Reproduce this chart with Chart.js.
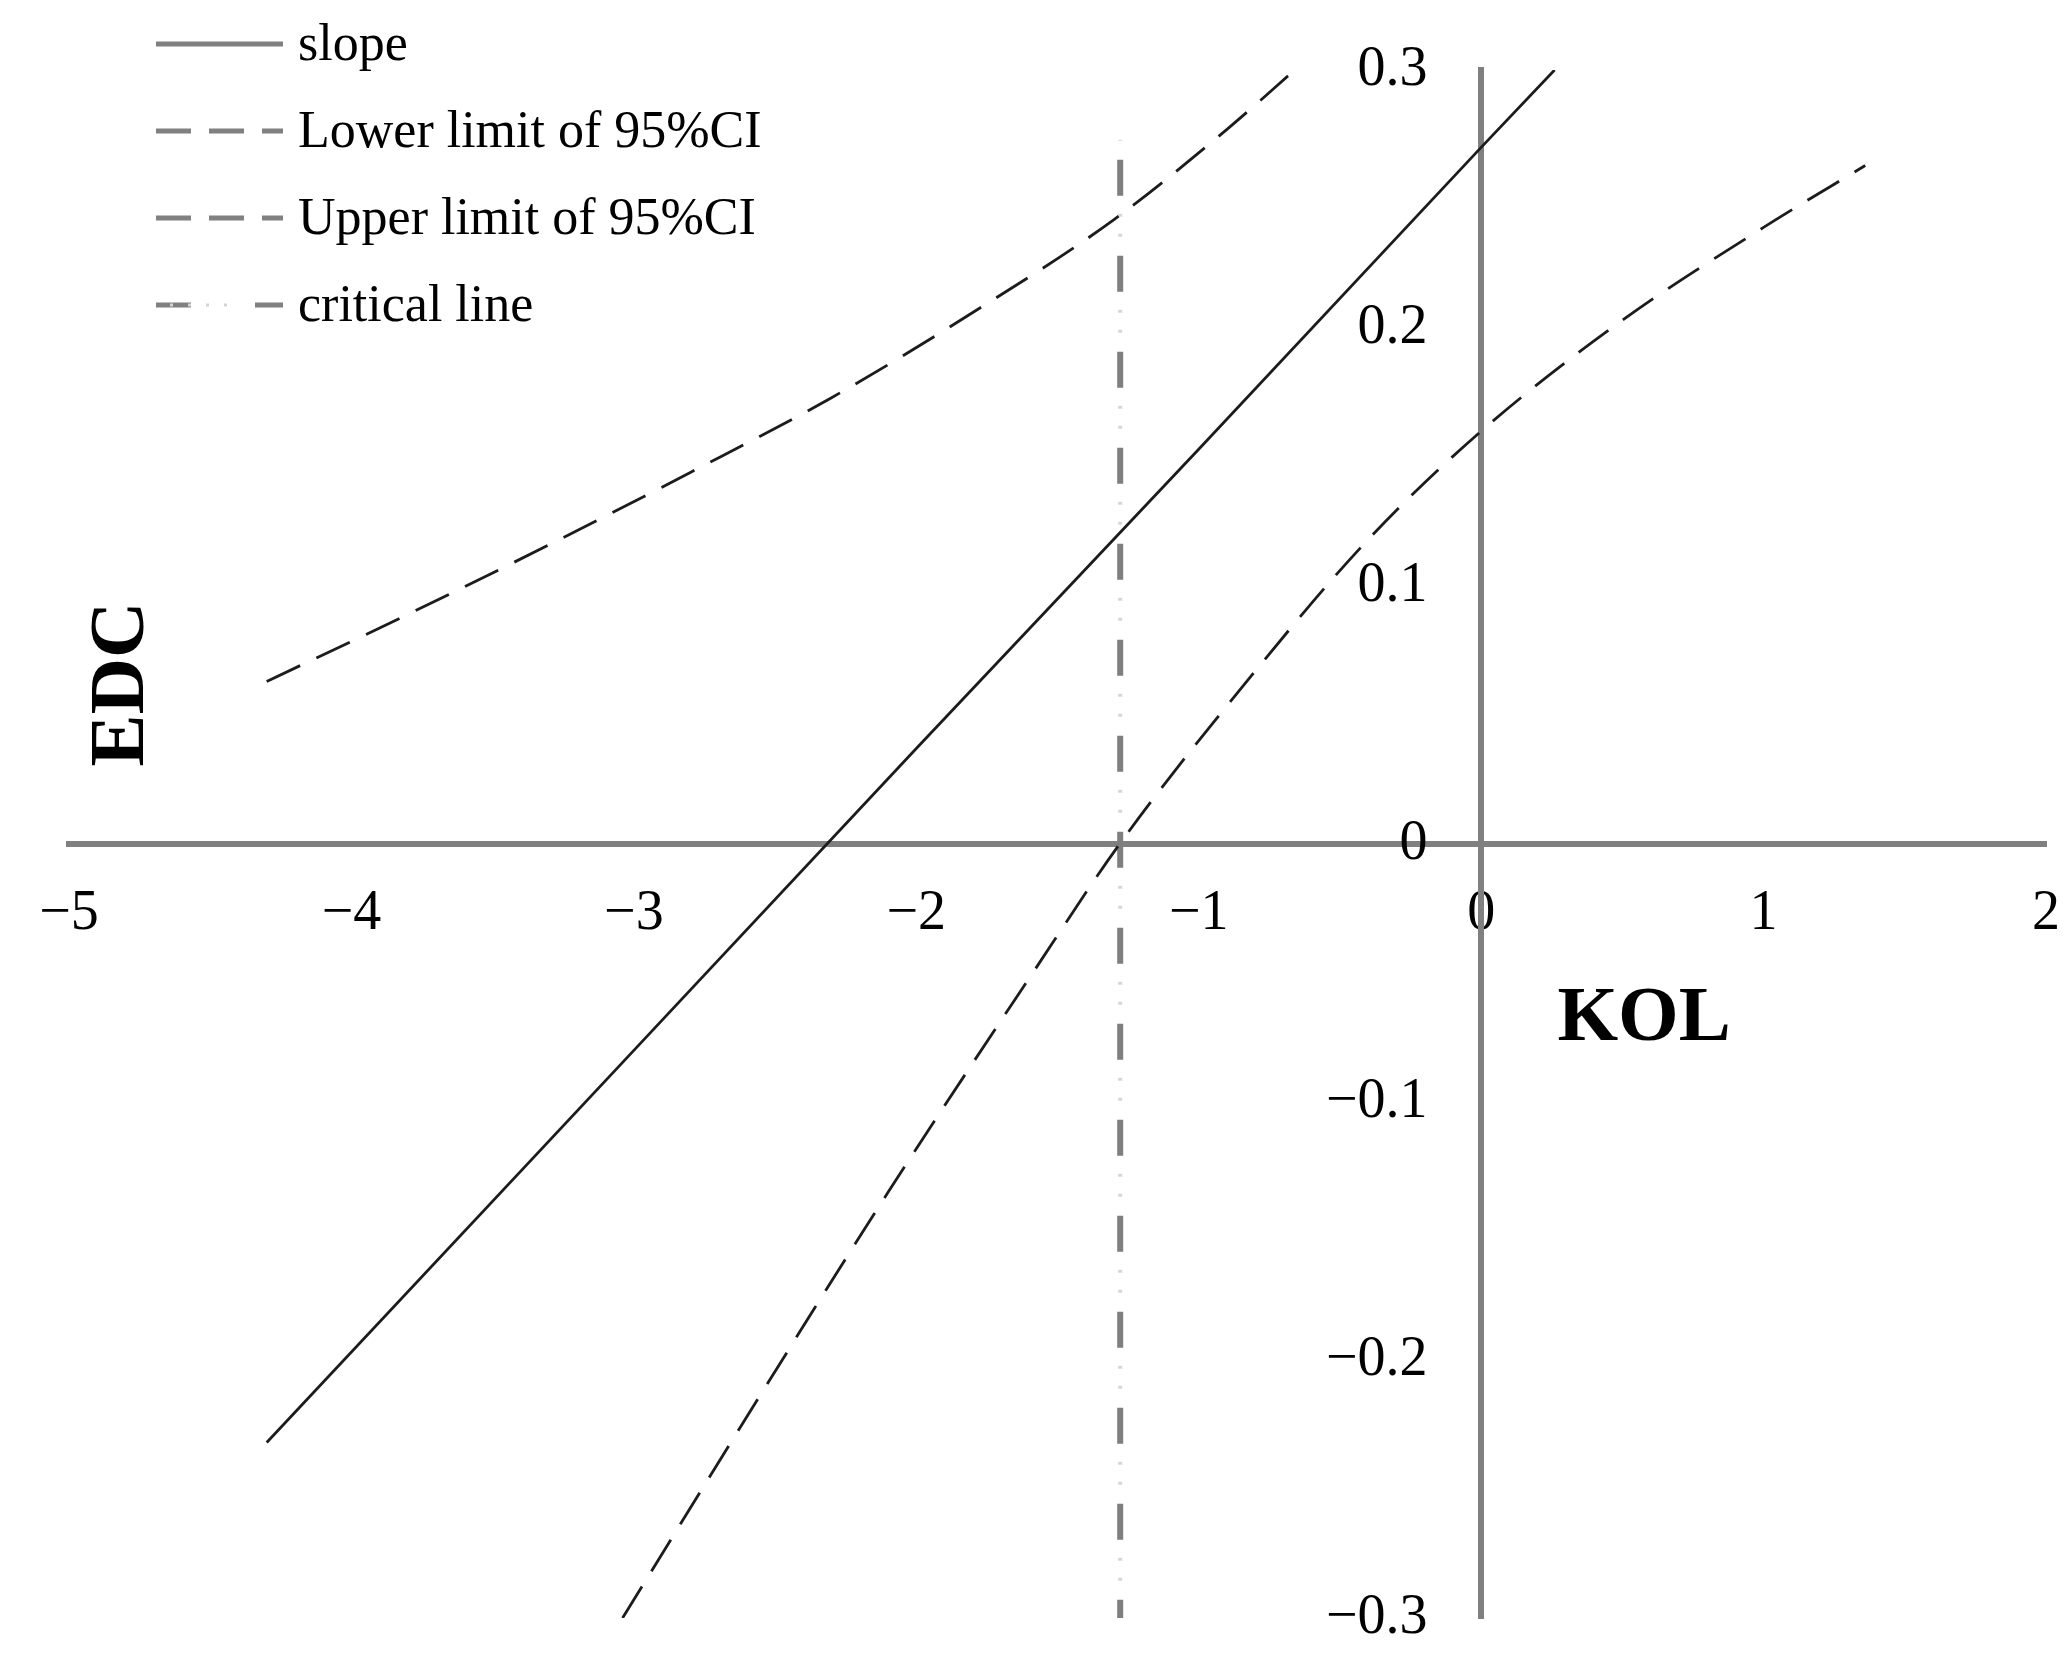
<!DOCTYPE html>
<html>
<head>
<meta charset="utf-8">
<script src="https://cdn.jsdelivr.net/npm/chart.js@4.4.0/dist/chart.umd.min.js"></script>
<style>
  html, body { margin: 0; padding: 0; background: #fff; }
  #wrap { width: 2070px; height: 1655px; }
</style>
</head>
<body>
<div id="wrap"><canvas id="chart" width="2070" height="1655"></canvas></div>
<script>
// ticks
const xTicks = [-5, -4, -3, -2, -1, 0, 1, 2];
const xTickLabels = ['−5', '−4', '−3', '−2', '−1', '0', '1', '2'];
const yTicks = [-0.3, -0.2, -0.1, 0, 0.1, 0.2, 0.3];
const yTickLabels = ['−0.3', '−0.2', '−0.1', '0', '0.1', '0.2', '0.3'];

// series
const slopeX = [-4.3, -3, -2, -1, 0, 0.26];
const slopeY = [-0.232, -0.080, 0.037, 0.153, 0.270, 0.300];

const lowerX = [-3.04, -2.6, -2.1, -1.6, -1.28, -0.8, -0.4, 0, 0.5, 1.0, 1.36];
const lowerY = [-0.300, -0.222, -0.135, -0.052, 0.000, 0.067, 0.118, 0.160, 0.203, 0.239, 0.263];

const upperX = [-4.3, -3.8, -3.3, -2.8, -2.3, -1.8, -1.3, -0.9, -0.66];
const upperY = [0.063, 0.089, 0.116, 0.144, 0.173, 0.206, 0.242, 0.277, 0.300];

const criticalX = [-1.278, -1.278];
const criticalY = [0.273, -0.3];

const seriesLabels = ['slope', 'Lower limit of 95%CI', 'Upper limit of 95%CI', 'critical line'];
const axisTitles = ['KOL', 'EDC'];

const toPoints = (xs, ys) => xs.map((x, i) => ({ x: x, y: ys[i] }));

const curveStyle = {
  borderColor: '#1c1c1c',
  borderWidth: 2.8,
  pointRadius: 0,
  fill: false,
};

// scales sit on the other axis, so they take no room in the layout
const noRoom = (scale) => {
  if (scale.isHorizontal()) scale.height = 0; else scale.width = 0;
  scale.paddingLeft = scale.paddingRight = scale.paddingTop = scale.paddingBottom = 0;
};

// legend drawn by hand: vertical list above the plot
const legendPlugin = {
  id: 'stackLegend',
  afterDraw(chart) {
    const ctx = chart.ctx;
    const samples = [[], [35, 18], [35, 18], [35, 64]];
    ctx.save();
    seriesLabels.forEach((label, i) => {
      const y = 44 + i * 87;
      ctx.strokeStyle = '#808080';
      ctx.lineWidth = 5;
      ctx.setLineDash(samples[i]);
      ctx.beginPath();
      ctx.moveTo(156, y);
      ctx.lineTo(283, y);
      ctx.stroke();
      if (i === 3) {
        ctx.strokeStyle = '#d4d4d4';
        ctx.lineWidth = 3;
        ctx.setLineDash([3, 15]);
        ctx.lineDashOffset = -212;
        ctx.beginPath();
        ctx.moveTo(156, y);
        ctx.lineTo(240, y);
        ctx.stroke();
        ctx.lineDashOffset = 0;
      }
      ctx.setLineDash([]);
      ctx.fillStyle = '#000';
      ctx.font = '52px "Liberation Serif"';
      ctx.textBaseline = 'middle';
      ctx.textAlign = 'left';
      ctx.fillText(label, 298, y + 2);
    });
    ctx.restore();
  }
};

// axis titles placed next to the crossing axes
const titlePlugin = {
  id: 'axisTitles',
  afterDraw(chart) {
    const { ctx, scales } = chart;
    ctx.save();
    ctx.fillStyle = '#000';
    ctx.font = 'bold 78px "Liberation Serif"';
    ctx.textAlign = 'center';
    ctx.textBaseline = 'middle';
    ctx.fillText(axisTitles[0], scales.x.getPixelForValue(0.577), scales.y.getPixelForValue(-0.068));
    ctx.translate(scales.x.getPixelForValue(-4.81), scales.y.getPixelForValue(0.062));
    ctx.rotate(-Math.PI / 2);
    ctx.fillText(axisTitles[1], 0, 0);
    ctx.restore();
  }
};

const tickFont = { family: 'Liberation Serif', size: 56 };

new Chart(document.getElementById('chart'), {
  type: 'line',
  data: {
    datasets: [
      Object.assign({ label: seriesLabels[0], data: toPoints(slopeX, slopeY) }, curveStyle),
      Object.assign({ label: seriesLabels[1], data: toPoints(lowerX, lowerY), borderDash: [37, 18], tension: 0.4, cubicInterpolationMode: 'monotone' }, curveStyle),
      Object.assign({ label: seriesLabels[2], data: toPoints(upperX, upperY), borderDash: [37, 18], tension: 0.4, cubicInterpolationMode: 'monotone' }, curveStyle),
      {
        label: seriesLabels[3],
        data: toPoints(criticalX, criticalY),
        borderColor: '#7f7f7f',
        borderWidth: 6,
        borderDash: [36, 60],
        borderDashOffset: 76,
        pointRadius: 0,
      },
      {
        label: 'critical dots',
        data: toPoints(criticalX, criticalY),
        borderColor: '#d6d6d6',
        borderWidth: 4,
        borderDash: [3, 17, 3, 73],
        borderDashOffset: 22,
        pointRadius: 0,
      },
    ]
  },
  options: {
    responsive: false,
    animation: false,
    layout: { padding: { left: 69, right: 24, top: 70, bottom: 37 } },
    plugins: { legend: { display: false }, tooltip: { enabled: false } },
    scales: {
      x: {
        type: 'linear',
        min: -5,
        max: 2,
        position: { y: 0 },
        afterBuildTicks: (scale) => { scale.ticks = xTicks.map(v => ({ value: v })); },
        afterFit: noRoom,
        grid: { display: false, drawTicks: false },
        border: { display: true, color: '#808080', width: 6 },
        ticks: {
          font: tickFont,
          color: '#000',
          padding: 37,
          maxRotation: 0,
          autoSkip: false,
          callback: (value, index) => xTickLabels[index],
        },
      },
      // vertical axis line through x = 0
      y: {
        type: 'linear',
        min: -0.3,
        max: 0.3,
        position: { x: 0 },
        afterFit: noRoom,
        grid: { display: false, drawTicks: false },
        border: { display: true, color: '#808080', width: 6 },
        ticks: { display: false },
      },
      // its tick labels, set a little to the left of the line
      yLabels: {
        type: 'linear',
        axis: 'y',
        min: -0.3,
        max: 0.3,
        position: { x: -0.19 },
        afterBuildTicks: (scale) => { scale.ticks = yTicks.map(v => ({ value: v })); },
        afterFit: noRoom,
        grid: { display: false, drawTicks: false },
        border: { display: false },
        ticks: {
          font: tickFont,
          color: '#000',
          autoSkip: false,
          callback: (value, index) => yTickLabels[index],
        },
      },
    },
  },
  plugins: [legendPlugin, titlePlugin],
});
</script>
</body>
</html>
